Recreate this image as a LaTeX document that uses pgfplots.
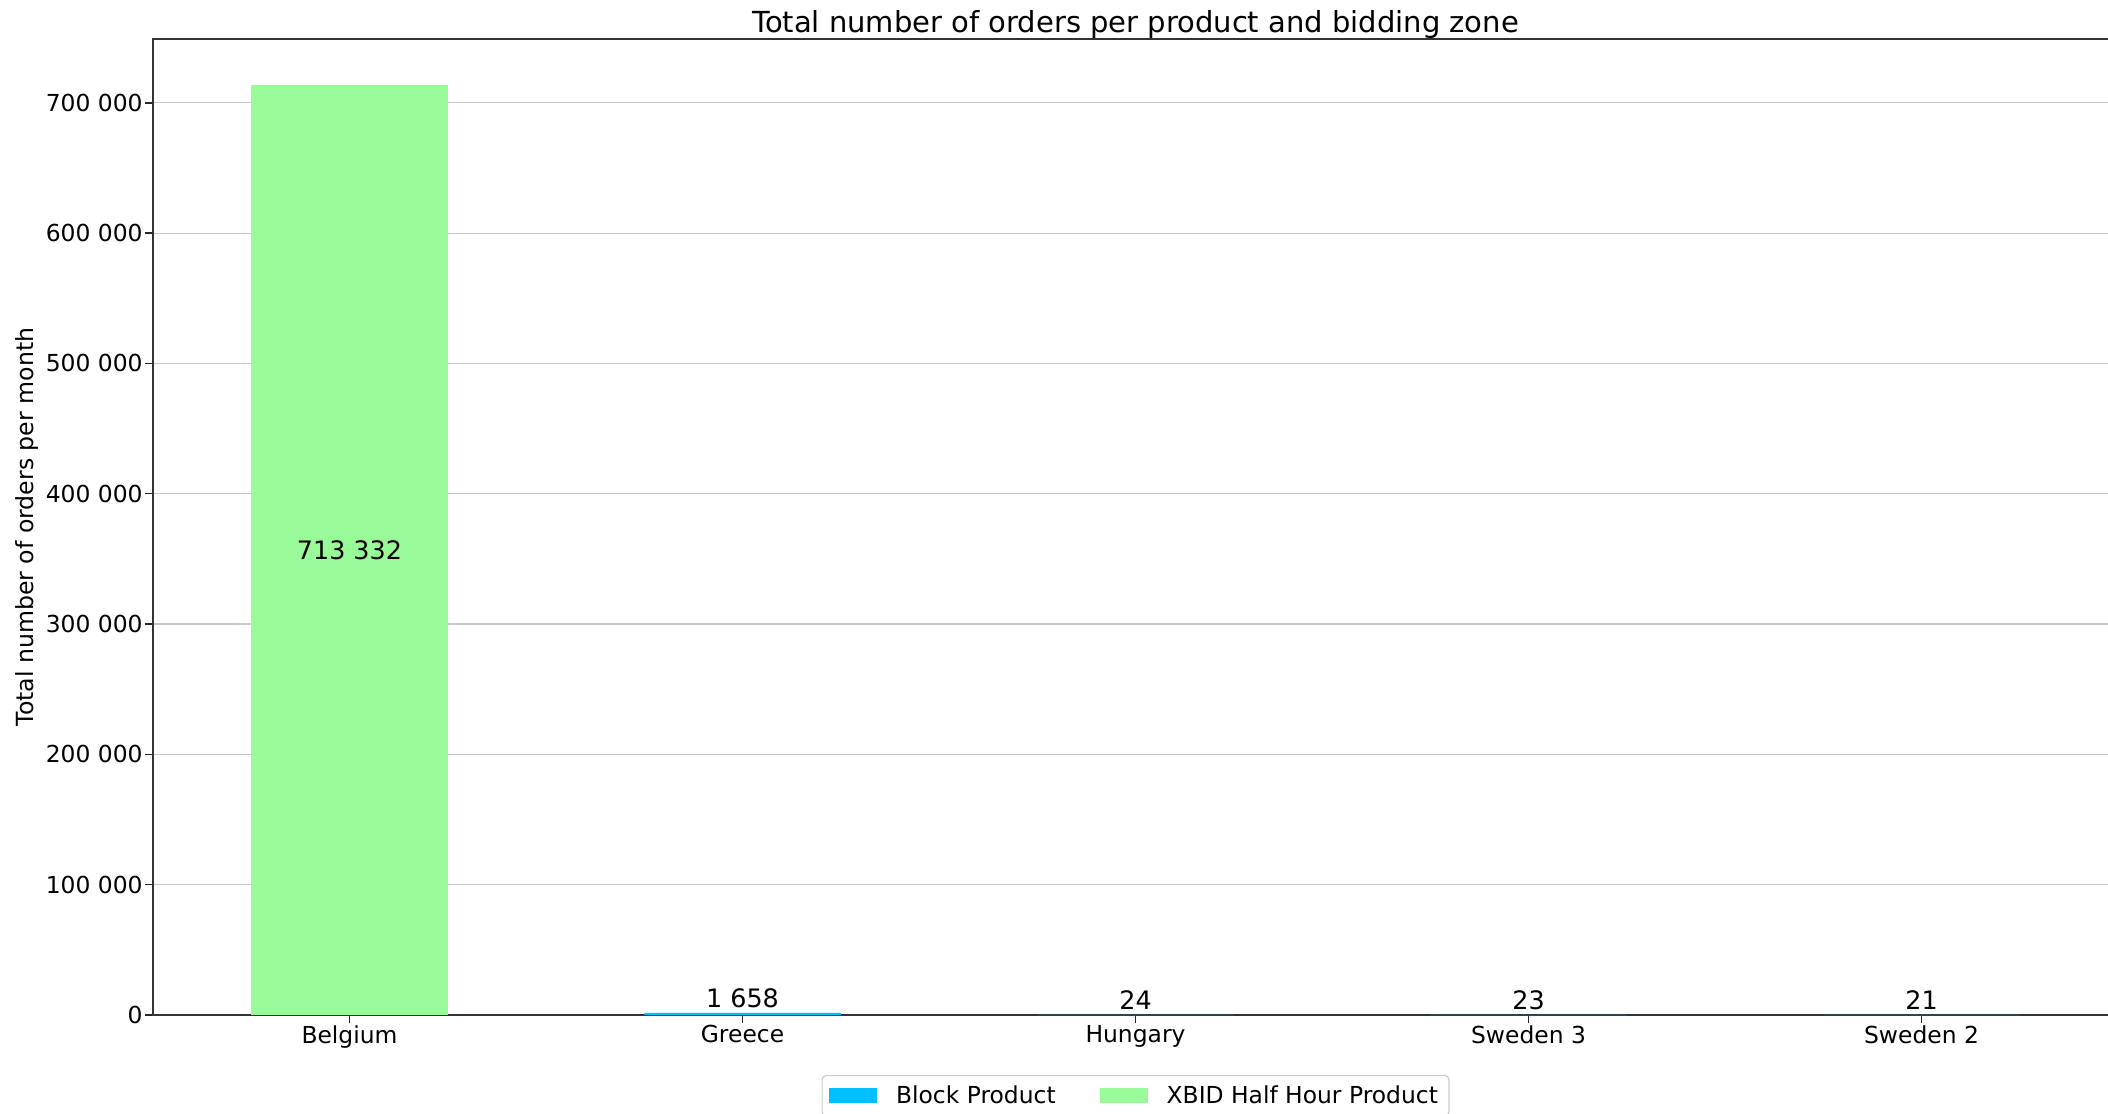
\documentclass[border=0pt]{standalone}
\usepackage{pgfplots}
\pgfplotsset{compat=1.18}
\usepackage{fontspec}
\setmainfont{DejaVu Sans}
\definecolor{blockblue}{HTML}{00BFFF}
\definecolor{xbidgreen}{HTML}{98FB98}
\begin{document}
\begin{tikzpicture}
\path[use as bounding box, clip] (-76.5pt,-49pt) rectangle (977.5pt,507.5pt);
\begin{axis}[
  at={(0pt,0pt)}, anchor=south west,
  scale only axis, width=982.5pt, height=488pt,
  xmin=-0.5, xmax=4.5, ymin=0, ymax=748999,
  ybar, bar width=0.5, bar shift=0pt,
  scaled y ticks=false,
  xtick={0,1,2,3,4},
  xticklabels={Belgium,Greece,Hungary,Sweden 3,Sweden 2},
  ytick={0,100000,200000,300000,400000,500000,600000,700000},
  yticklabels={0,100 000,200 000,300 000,400 000,500 000,600 000,700 000},
  tick label style={font=\fontsize{11.7}{13}\selectfont},
  yticklabel style={inner xsep=1pt},
  xticklabel style={inner ysep=1pt},
  xtick pos=left, ytick pos=left,
  tick align=outside, major tick length=4pt,
  tick style={black!85, line width=0.7pt},
  axis line style={black!80, line width=0.8pt},
  ymajorgrids, grid style={color=black!22, line width=0.6pt},
  every axis title shift=0pt,
  title={Total number of orders per product and bidding zone},
  title style={at={(0.5,1)}, anchor=base, yshift=3.3pt, font=\fontsize{14.5}{17}\selectfont},
  ylabel={Total number of orders per month},
  ylabel style={at={(axis description cs:-0.0641,0.5)}, anchor=center, font=\fontsize{11.8}{13}\selectfont},
  legend columns=2,
  legend cell align=left,
  legend style={at={(0.5,-0.0615)}, anchor=north, draw=black!20, line width=0.6pt, rounded corners=2pt,
    font=\fontsize{11.7}{13}\selectfont, inner xsep=3.5pt, inner ysep=3pt,
    /tikz/every even column/.append style={column sep=20pt},
    /tikz/every odd column/.append style={column sep=7.5pt}},
  legend image code/.code={\fill[#1, sharp corners] (0pt,-3.5pt) rectangle (24pt,4pt);},
]
\addplot+[fill=blockblue, draw=none] coordinates {(1,1658) (2,24) (3,23) (4,21)};
\addlegendentry{Block Product}
\addplot+[fill=xbidgreen, draw=none] coordinates {(0,713332)};
\addlegendentry{XBID Half Hour Product}
\node[font=\fontsize{12.7}{14}\selectfont, anchor=center, text=black] at (axis cs:0,356666) {713 332};
\node[font=\fontsize{12.7}{14}\selectfont, anchor=base, yshift=2.5pt] at (axis cs:1,1658) {1 658};
\node[font=\fontsize{12.7}{14}\selectfont, anchor=base, yshift=2.5pt] at (axis cs:2,24) {24};
\node[font=\fontsize{12.7}{14}\selectfont, anchor=base, yshift=2.5pt] at (axis cs:3,23) {23};
\node[font=\fontsize{12.7}{14}\selectfont, anchor=base, yshift=2.5pt] at (axis cs:4,21) {21};
\end{axis}
\end{tikzpicture}
\end{document}
